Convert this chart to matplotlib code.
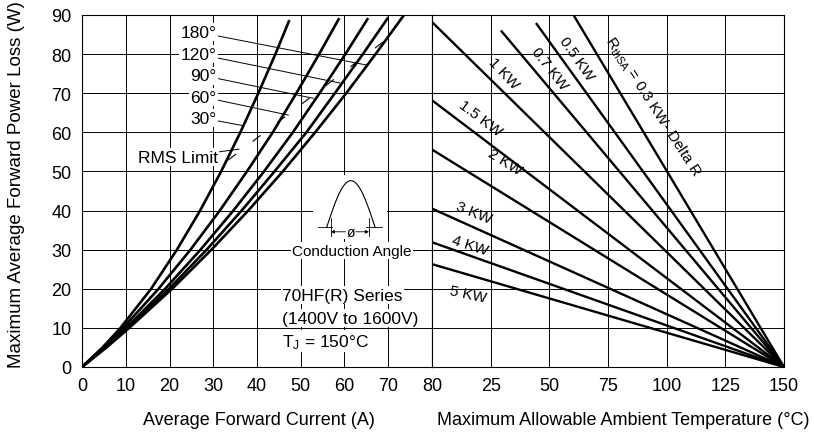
import numpy as np
import matplotlib.pyplot as plt

plt.rcParams['font.family'] = ['Liberation Sans', 'DejaVu Sans']
plt.rcParams['mathtext.default'] = 'regular'

# ---------------- left panel: power loss vs average current ----------------
angles = ['180°', '120°', '90°', '60°', '30°']
power = [0, 5, 10, 20, 30, 40, 50, 60, 70, 80]
p_top = [90.0, 89.4, 89.2, 89.2, 88.7]

i_180 = [0, 5.6, 10.8, 20.6, 29.6, 38.0, 45.9, 53.3, 60.4, 67.1, 73.6]
i_120 = [0, 5.4, 10.5, 19.9, 28.5, 36.5, 44.0, 51.3, 57.8, 64.2, 70.0]
i_90 = [0, 5.2, 10.1, 19.0, 27.1, 34.6, 41.6, 48.2, 54.3, 60.2, 65.4]
i_60 = [0, 4.9, 9.4, 17.5, 24.8, 31.5, 37.7, 43.6, 49.0, 54.2, 58.8]
i_30 = [0, 4.7, 8.8, 15.8, 21.7, 27.0, 31.8, 36.2, 40.3, 44.2, 47.4]
currents = [i_180, i_120, i_90, i_60, i_30]

rms_current = [33.4, 68.8]
rms_power = [52.9, 83.1]

# ---------------- right panel: ambient temperature lines ----------------
rth_labels = ['0.3', '0.5', '0.7', '1', '1.5', '2', '3', '4', '5']
t_start = [60.3, 44.6, 29.7, 0, 0, 0, 0, 0, 0]
p_start = [90.0, 87.7, 85.8, 88.2, 68.2, 55.6, 40.5, 31.9, 26.3]
t_end = 150
p_end = 0

fig = plt.figure(figsize=(8.14, 4.35), dpi=100)
ax1 = fig.add_axes([82/814, 67/435, 350/814, 352/435])
ax2 = fig.add_axes([432/814, 67/435, 352/814, 352/435])

for ax in (ax1, ax2):
    ax.set_ylim(0, 90)
    ax.set_yticks(np.arange(0, 91, 10))
    ax.grid(True, color='black', lw=0.7)
    ax.set_axisbelow(True)
    ax.tick_params(length=0, pad=7.5, labelsize=13)
    for s in ax.spines.values():
        s.set_linewidth(0.8)

ax1.set_xlim(0, 80)
ax1.set_xticks(np.arange(0, 81, 10))
ax2.set_xlim(0, 150)
ax2.set_xticks(np.arange(0, 151, 25))
ax2.set_xticklabels([''] + [str(v) for v in range(25, 151, 25)])
ax2.tick_params(labelleft=False)

for cur, top in zip(currents, p_top):
    ax1.plot(cur, power + [top], color='black', lw=1.9, solid_capstyle='butt', zorder=3)

ax1.plot(rms_current, rms_power, color='black', lw=0.8, dashes=(9, 18.7), zorder=4)

wbox = dict(facecolor='white', edgecolor='none', pad=1)

# angle labels with leaders
label_p = [85.6, 80.0, 74.5, 69.0, 63.6]
leader_end = [(65.1, 77.2), (59.0, 72.6), (52.9, 68.7), (47.2, 64.4), (36.9, 61.7)]
for a, lp, le in zip(angles, label_p, leader_end):
    ax1.annotate(a, xy=le, xytext=(30.8, lp), ha='right', va='center', fontsize=12.5,
                 bbox=wbox, zorder=5,
                 arrowprops=dict(arrowstyle='-', lw=0.7, color='black', shrinkA=0, shrinkB=0))

ax1.annotate('RMS Limit', xy=(35.9, 55.7), xytext=(31.1, 53.6), ha='right', va='center',
             fontsize=12.5, bbox=wbox, zorder=5,
             arrowprops=dict(arrowstyle='-', lw=0.7, color='black', shrinkA=0, shrinkB=0))

ax1.text(45.7, 18.4, '70HF(R) Series', fontsize=12.5, va='center', bbox=wbox, zorder=5)
ax1.text(45.7, 12.5, '(1400V to 1600V)', fontsize=12.5, va='center', bbox=wbox, zorder=5)
ax1.text(45.7, 6.6, 'T$_J$ = 150°C', fontsize=12.5, va='center', bbox=wbox, zorder=5)
ax1.text(61.7, 29.7, 'Conduction Angle', fontsize=11, ha='center', va='center',
         bbox=wbox, zorder=5)

# conduction angle sketch
axins = ax1.inset_axes([52.8, 32.7, 16.9, 16.4], transform=ax1.transData, zorder=5)
axins.set_xlim(0, 1)
axins.set_ylim(0, 1)
axins.set_xticks([])
axins.set_yticks([])
for s in axins.spines.values():
    s.set_visible(False)
xs = np.linspace(0.185, 0.84, 80)
axins.plot(xs, 0.183 + 0.728 * np.sin(np.pi * (xs - 0.185) / 0.655), color='black', lw=0.8)
axins.plot([0.07, 0.26], [0.183, 0.183], color='black', lw=0.6)
axins.plot([0.72, 0.93], [0.183, 0.183], color='black', lw=0.6)
axins.plot([0.24, 0.24], [0.05, 0.33], color='black', lw=0.6)
axins.plot([0.757, 0.757], [0.05, 0.33], color='black', lw=0.6)
for x0, x1 in [(0.44, 0.24), (0.58, 0.757)]:
    axins.annotate('', xy=(x1, 0.114), xytext=(x0, 0.114),
                   arrowprops=dict(arrowstyle='-|>', lw=0.6, color='black',
                                   mutation_scale=5, shrinkA=0, shrinkB=0))
axins.text(0.51, 0.114, 'ø', fontsize=10, ha='center', va='center')

# right panel lines
for t0, p0 in zip(t_start, p_start):
    ax2.plot([t0, t_end], [p0, p_end], color='black', lw=1.7, zorder=3)

rlab_pos = [(94.3, 66.7), (61.4, 79.0), (49.9, 76.5), (30.4, 75.2), (20.5, 63.7),
            (31.1, 52.5), (17.9, 39.6), (16.2, 31.2), (15.3, 18.7)]
rlab_rot = [-57, -55, -52, -47, -37, -32, -22, -18, -12]
for lab, pos, rot in zip(rth_labels, rlab_pos, rlab_rot):
    txt = lab + ' KW'
    if lab == '0.3':
        txt = 'R$_{thSA}$ = 0.3 KW- Delta R'
    ax2.text(pos[0], pos[1], txt, fontsize=11, ha='center', va='center',
             rotation=rot, rotation_mode='anchor', zorder=5)

fig.text(17/814, 1 - 184.5/435, 'Maximum Average Forward Power Loss (W)', rotation=90,
         ha='center', va='center', fontsize=13.5)
fig.text(258.5/814, 1 - 421/435, 'Average Forward Current (A)', ha='center', va='center',
         fontsize=13)
fig.text(623/814, 1 - 421/435, 'Maximum Allowable Ambient Temperature (°C)', ha='center',
         va='center', fontsize=13)

fig.savefig('out.png', dpi=100)
